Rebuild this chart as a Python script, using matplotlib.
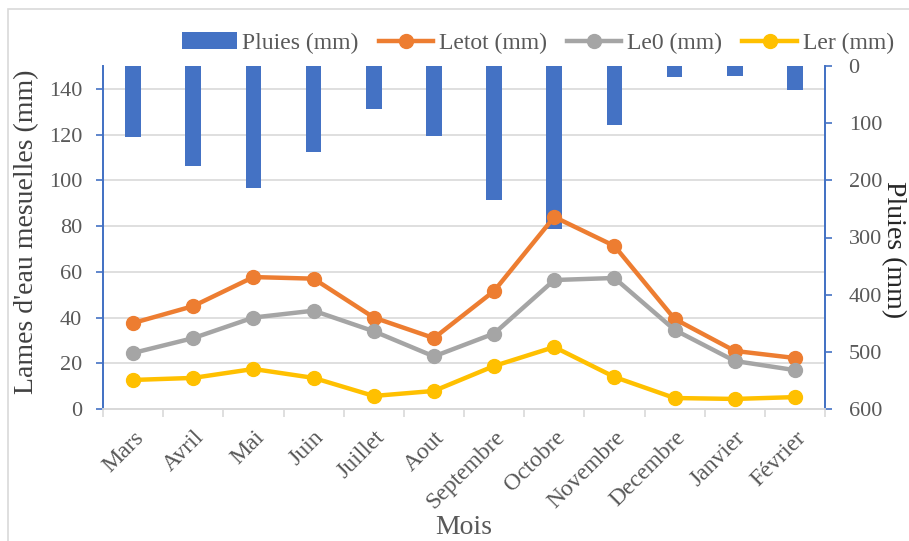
import matplotlib.pyplot as plt
import numpy as np

mois = ["Mars", "Avril", "Mai", "Juin", "Juillet", "Aout", "Septembre",
        "Octobre", "Novembre", "Decembre", "Janvier", "Février"]
pluies = [124, 175, 213, 150, 75, 122, 234, 285, 103, 19, 17, 42]
letot = [37.6, 45, 57.7, 57, 40, 31, 51.6, 84, 71.3, 39.4, 25.4, 22.3]
le0 = [24.5, 31, 40, 43, 34, 23, 33, 56.4, 57.3, 34.6, 21, 17]
ler = [12.7, 13.6, 17.5, 13.6, 5.7, 7.9, 18.8, 27.1, 14, 4.8, 4.4, 5.2]

plt.rcParams["font.family"] = ["Liberation Serif", "DejaVu Serif"]
txt = "#595959"
blue = "#4472C4"
grid = "#D9D9D9"

W, H = 909, 541
fig = plt.figure(figsize=(W / 100, H / 100), dpi=100)
ax = fig.add_axes([103 / W, 1 - 409 / H, 722 / W, 343 / H])
ax2 = ax.twinx()

x = np.arange(len(mois))

# lines on left axis, bars on the inverted right axis
ax.set_zorder(2)
ax.patch.set_visible(False)

bars = ax2.bar(x, pluies, width=0.26, color=blue)
ax2.set_ylim(600, 0)
ax2.set_yticks(range(0, 601, 100))

l1, = ax.plot(x, letot, color="#ED7D31", lw=3.2, marker="o", ms=10)
l2, = ax.plot(x, le0, color="#A5A5A5", lw=3.2, marker="o", ms=10)
l3, = ax.plot(x, ler, color="#FFC000", lw=3.2, marker="o", ms=10)

ax.set_xlim(-0.5, len(mois) - 0.5)
ax.set_ylim(0, 150)
ax.set_yticks(range(0, 141, 20))
# grid drawn on the bar axis so it sits under the bars
for v in range(0, 141, 20):
    ax2.axhline(600 - v * 4, color=grid, lw=1.2, zorder=0)

ax.set_xticks(x)
ax.set_xticklabels(mois, rotation=45, ha="right", va="top", rotation_mode="anchor")
ax.set_xticks(np.arange(-0.5, len(mois)), minor=True)
ax.tick_params(axis="x", which="major", length=0, labelsize=17, colors=txt, pad=13)
ax.tick_params(axis="x", which="minor", length=6, color=grid, width=1.2)
ax.tick_params(axis="y", labelsize=16, colors=txt, length=5, width=1.2, color=blue, pad=10)
ax2.tick_params(axis="y", labelsize=16, colors=txt, length=5, width=1.2, color=blue, pad=12)

for a in (ax, ax2):
    a.spines["top"].set_visible(False)
    a.spines["left"].set_color(blue)
    a.spines["right"].set_color(blue)
    a.spines["bottom"].set_color(grid)
    a.spines["left"].set_linewidth(1.3)
    a.spines["right"].set_linewidth(1.3)
    a.spines["bottom"].set_linewidth(1.3)

fig.text(27 / W, 1 - 232 / H, "Lames d'eau mesuelles (mm)", rotation=90,
         fontsize=20, color="#404040", ha="center", va="center")
fig.text(893 / W, 1 - 250 / H, "Pluies (mm)", rotation=270,
         fontsize=20, color="#262626", ha="center", va="center")
fig.text(464 / W, 1 - 527 / H, "Mois", fontsize=20, color=txt, ha="center", va="center")

fig.legend([bars, l1, l2, l3], ["Pluies (mm)", "Letot (mm)", "Le0 (mm)", "Ler (mm)"],
           loc="center", bbox_to_anchor=(538 / W, 1 - 43 / H), ncol=4, frameon=False,
           fontsize=17, labelcolor=txt, handlelength=2.3, columnspacing=0.85,
           handletextpad=0.25, borderpad=0)

fig.patches.append(plt.Rectangle((8 / W, -0.1), 1.2, 1.1 - 9 / H, transform=fig.transFigure,
                                 fill=False, edgecolor=grid, lw=1.2))

fig.savefig("out.png", dpi=100)
